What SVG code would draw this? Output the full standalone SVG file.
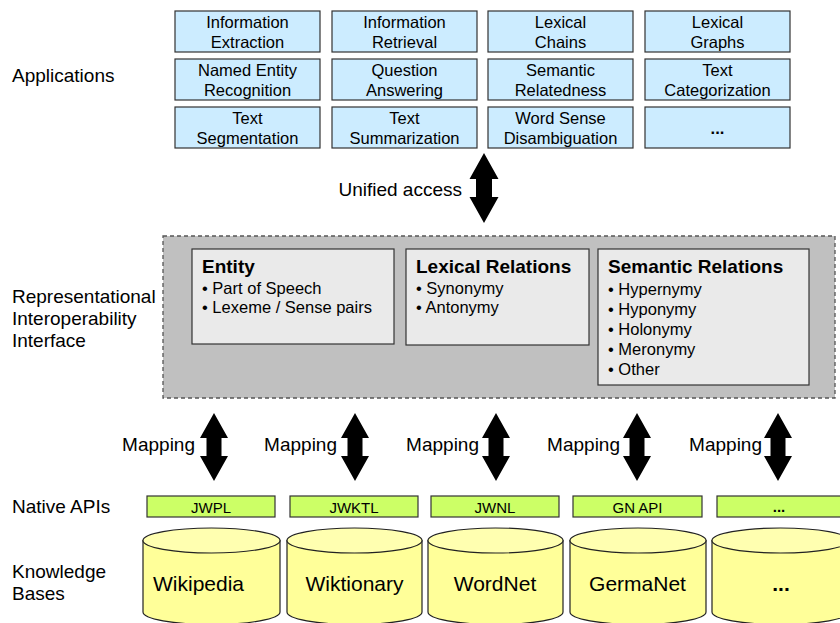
<svg xmlns="http://www.w3.org/2000/svg" width="840" height="623" viewBox="0 0 840 623">
<style>
text{font-family:"Liberation Sans",Arial,sans-serif;fill:#000}
.lbl{font-size:19px}
.app rect{fill:#ccecff;stroke:#333;stroke-width:1.2}
.app text{font-size:16.5px;text-anchor:middle}
.inner rect{fill:#eaeaea;stroke:#333;stroke-width:1.2}
.ttl{font-size:19px;font-weight:bold}
.bul{font-size:16.5px}
.api rect{fill:#ccff66;stroke:#333;stroke-width:1.2}
.api text{font-size:15px;text-anchor:middle}
.cyl path{fill:#ffff99;stroke:#222;stroke-width:1.2}
.cyl ellipse{fill:#ffffb0;stroke:#222;stroke-width:1.2}
.cyl text{font-size:21px}
.arr{fill:#000}
.b{font-weight:bold}
</style>
<defs>
<path id="ua" d="M0,0 L14.5,26 L8,26 L8,44 L14.5,44 L0,70 L-14.5,44 L-8,44 L-8,26 L-14.5,26 Z"/>
<path id="ma" d="M0,0 L14,25 L7.5,25 L7.5,43 L14,43 L0,68 L-14,43 L-7.5,43 L-7.5,25 L-14,25 Z"/>
</defs>
<rect width="840" height="623" fill="#fff"/>
<g id="labels">
<text class="lbl" x="12" y="82">Applications</text>
<text class="lbl" x="12" y="303">Representational</text>
<text class="lbl" x="12" y="325">Interoperability</text>
<text class="lbl" x="12" y="347">Interface</text>
<text class="lbl" x="12" y="513">Native APIs</text>
<text class="lbl" x="12" y="578">Knowledge</text>
<text class="lbl" x="12" y="600">Bases</text>
</g>
<g id="applications">
<g class="app" id="app-ie"><rect x="175" y="11" width="145" height="41"/><text x="247.5" y="28">Information</text><text x="247.5" y="47.5">Extraction</text></g>
<g class="app" id="app-ir"><rect x="332" y="11" width="145" height="41"/><text x="404.5" y="28">Information</text><text x="404.5" y="47.5">Retrieval</text></g>
<g class="app" id="app-lc"><rect x="488" y="11" width="145" height="41"/><text x="560.5" y="28">Lexical</text><text x="560.5" y="47.5">Chains</text></g>
<g class="app" id="app-lg"><rect x="645" y="11" width="145" height="41"/><text x="717.5" y="28">Lexical</text><text x="717.5" y="47.5">Graphs</text></g>
<g class="app" id="app-ner"><rect x="175" y="59" width="145" height="41"/><text x="247.5" y="76">Named Entity</text><text x="247.5" y="95.5">Recognition</text></g>
<g class="app" id="app-qa"><rect x="332" y="59" width="145" height="41"/><text x="404.5" y="76">Question</text><text x="404.5" y="95.5">Answering</text></g>
<g class="app" id="app-sr"><rect x="488" y="59" width="145" height="41"/><text x="560.5" y="76">Semantic</text><text x="560.5" y="95.5">Relatedness</text></g>
<g class="app" id="app-tc"><rect x="645" y="59" width="145" height="41"/><text x="717.5" y="76">Text</text><text x="717.5" y="95.5">Categorization</text></g>
<g class="app" id="app-ts"><rect x="175" y="107" width="145" height="41"/><text x="247.5" y="124">Text</text><text x="247.5" y="143.5">Segmentation</text></g>
<g class="app" id="app-tsum"><rect x="332" y="107" width="145" height="41"/><text x="404.5" y="124">Text</text><text x="404.5" y="143.5">Summarization</text></g>
<g class="app" id="app-wsd"><rect x="488" y="107" width="145" height="41"/><text x="560.5" y="124">Word Sense</text><text x="560.5" y="143.5">Disambiguation</text></g>
<g class="app" id="app-more"><rect x="645" y="107" width="145" height="41"/><text class="b" x="717.5" y="134">...</text></g>
</g>
<g id="interface">
<rect x="163" y="236" width="672" height="162" fill="#c0c0c0" stroke="#555" stroke-width="1.3" stroke-dasharray="4,3"/>
<g class="inner" id="entity"><rect x="192" y="249" width="202" height="95"/>
<text class="ttl" x="202" y="273">Entity</text>
<text class="bul" x="202" y="294">• Part of Speech</text>
<text class="bul" x="202" y="313">• Lexeme / Sense pairs</text></g>
<g class="inner" id="lexical"><rect x="406" y="249" width="183" height="96"/>
<text class="ttl" x="416" y="273">Lexical Relations</text>
<text class="bul" x="416" y="294">• Synonymy</text>
<text class="bul" x="416" y="313">• Antonymy</text></g>
<g class="inner" id="semantic"><rect x="598" y="249" width="211" height="136"/>
<text class="ttl" x="608" y="273">Semantic Relations</text>
<text class="bul" x="608" y="295">• Hypernymy</text>
<text class="bul" x="608" y="315">• Hyponymy</text>
<text class="bul" x="608" y="335">• Holonymy</text>
<text class="bul" x="608" y="355">• Meronymy</text>
<text class="bul" x="608" y="375">• Other</text></g>
</g>
<g id="connectors">
<use href="#ua" class="arr" x="484" y="153"/>
<text class="lbl" x="462" y="196" text-anchor="end">Unified access</text>
<use href="#ma" class="arr" x="214" y="413"/>
<use href="#ma" class="arr" x="355" y="413"/>
<use href="#ma" class="arr" x="496" y="413"/>
<use href="#ma" class="arr" x="637" y="413"/>
<use href="#ma" class="arr" x="778" y="413"/>
<text class="lbl" x="195" y="451" text-anchor="end">Mapping</text>
<text class="lbl" x="337" y="451" text-anchor="end">Mapping</text>
<text class="lbl" x="479" y="451" text-anchor="end">Mapping</text>
<text class="lbl" x="620" y="451" text-anchor="end">Mapping</text>
<text class="lbl" x="762" y="451" text-anchor="end">Mapping</text>
</g>
<g id="apis">
<g class="api" id="api-jwpl"><rect x="147" y="496" width="128" height="21"/><text x="211" y="512.5">JWPL</text></g>
<g class="api" id="api-jwktl"><rect x="290" y="496" width="128" height="21"/><text x="354" y="512.5">JWKTL</text></g>
<g class="api" id="api-jwnl"><rect x="431" y="496" width="128" height="21"/><text x="495" y="512.5">JWNL</text></g>
<g class="api" id="api-gn"><rect x="573" y="496" width="129" height="21"/><text x="637.5" y="512.5">GN API</text></g>
<g class="api" id="api-more"><rect x="717" y="496" width="128" height="21"/><text class="b" x="779" y="512">...</text></g>
</g>
<g id="kbs">
<g class="cyl" id="kb-wikipedia"><path d="M143,540.5 L143,612 A68.5,12.5 0 0 0 280,612 L280,540.5 Z"/><ellipse cx="211.5" cy="540.5" rx="68.5" ry="12.5"/><text x="153" y="591">Wikipedia</text></g>
<g class="cyl" id="kb-wiktionary"><path d="M287,540.5 L287,612 A67.5,12.5 0 0 0 422,612 L422,540.5 Z"/><ellipse cx="354.5" cy="540.5" rx="67.5" ry="12.5"/><text x="354.5" y="591" text-anchor="middle">Wiktionary</text></g>
<g class="cyl" id="kb-wordnet"><path d="M428,540.5 L428,612 A67.5,12.5 0 0 0 563,612 L563,540.5 Z"/><ellipse cx="495.5" cy="540.5" rx="67.5" ry="12.5"/><text x="495" y="591" text-anchor="middle">WordNet</text></g>
<g class="cyl" id="kb-germanet"><path d="M570,540.5 L570,612 A68,12.5 0 0 0 706,612 L706,540.5 Z"/><ellipse cx="638" cy="540.5" rx="68" ry="12.5"/><text x="637.5" y="591" text-anchor="middle">GermaNet</text></g>
<g class="cyl" id="kb-more"><path d="M712,540.5 L712,612 A68.5,12.5 0 0 0 849,612 L849,540.5 Z"/><ellipse cx="780.5" cy="540.5" rx="68.5" ry="12.5"/><text class="b" x="781" y="591" text-anchor="middle">...</text></g>
</g>
</svg>
